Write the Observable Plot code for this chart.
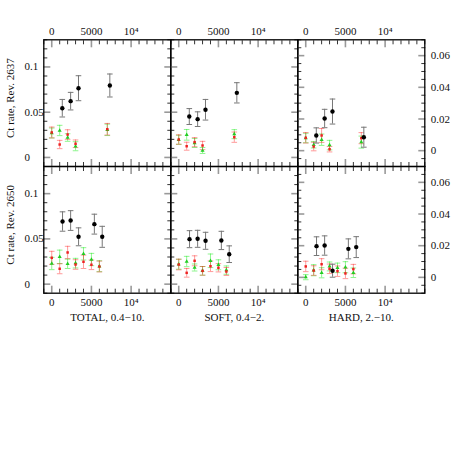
<!DOCTYPE html>
<html><head><meta charset="utf-8">
<script src="https://cdn.jsdelivr.net/npm/d3@7"></script>
<script src="https://cdn.jsdelivr.net/npm/@observablehq/plot@0.6"></script>
<style>
body{margin:0;background:#fff}
#c{position:relative;width:463px;height:463px;}
#c svg{position:absolute;left:0;top:0}
</style>
</head><body><div id="c"></div>
<script>
// ---- categories & tick labels ----
const revs = ["2637", "2650"];
const bands = ["TOTAL, 0.4\u221210.", "SOFT, 0.4\u22122.", "HARD, 2.\u221210."];
const xTickLabels = [0, 5000, 10000];
const yTicksMain = [0, 0.05, 0.1];
const yTicksHard = [0, 0.02, 0.04, 0.06];

// ---- x positions ----
const xRG2637 = [0, 1000, 2000, 3000, 7000];
const xBlack2637 = [1330, 2380, 3370, 7320];
const xRG2650 = [0, 1000, 2000, 3000, 4000, 5000, 6000];
const xBlack2650 = [1360, 2380, 3380, 5370, 6360];

// ---- Rev. 2637 ----
const totalBlack2637 = [0.0544, 0.0622, 0.0765, 0.0795];
const totalBlackErr2637 = [0.0097, 0.0097, 0.0138, 0.0127];
const totalRed2637 = [0.0276, 0.0143, 0.0253, 0.0151, 0.0312];
const totalRedErr2637 = [0.006, 0.0046, 0.0053, 0.0042, 0.0064];
const totalGreen2637 = [0.027, 0.0298, 0.022, 0.0124, 0.0305];
const totalGreenErr2637 = [0.0055, 0.0057, 0.0042, 0.005, 0.0063];

const softBlack2637 = [0.0452, 0.0423, 0.0527, 0.0714];
const softBlackErr2637 = [0.0088, 0.0081, 0.0114, 0.0112];
const softRed2637 = [0.0198, 0.0124, 0.0169, 0.0132, 0.0224];
const softRedErr2637 = [0.0052, 0.0044, 0.005, 0.0046, 0.0057];
const softGreen2637 = [0.0195, 0.025, 0.016, 0.0077, 0.0257];
const softGreenErr2637 = [0.005, 0.0059, 0.005, 0.0033, 0.005];

const hardBlack2637 = [0.0096, 0.0203, 0.0247, 0.0085];
const hardBlackErr2637 = [0.0048, 0.0058, 0.0079, 0.0063];
const hardRed2637 = [0.0081, 0.0026, 0.0096, 0.0009, 0.0079];
const hardRedErr2637 = [0.0033, 0.0027, 0.0044, 0.0017, 0.0035];
const hardGreen2637 = [0.008, 0.0037, 0.0069, 0.0035, 0.0054];
const hardGreenErr2637 = [0.003, 0.002, 0.0036, 0.003, 0.0038];

// ---- Rev. 2650 ----
const totalBlack2650 = [0.0692, 0.0703, 0.0523, 0.0663, 0.0523];
const totalBlackErr2650 = [0.0107, 0.0109, 0.0099, 0.011, 0.0116];
const totalRed2650 = [0.0291, 0.017, 0.035, 0.0217, 0.0247, 0.0214, 0.0195];
const totalRedErr2650 = [0.0072, 0.0055, 0.0068, 0.0053, 0.0074, 0.0053, 0.006];
const totalGreen2650 = [0.0228, 0.0302, 0.0225, 0.0232, 0.0335, 0.0272, 0.0198];
const totalGreenErr2650 = [0.0068, 0.0074, 0.0052, 0.0053, 0.0068, 0.0068, 0.006];

const softBlack2650 = [0.0497, 0.0501, 0.0479, 0.0483, 0.0331];
const softBlackErr2650 = [0.0094, 0.0094, 0.0094, 0.0101, 0.0092];
const softRed2650 = [0.0217, 0.0125, 0.0258, 0.0147, 0.0198, 0.0181, 0.014];
const softRedErr2650 = [0.0059, 0.0048, 0.0055, 0.0048, 0.0059, 0.0046, 0.0044];
const softGreen2650 = [0.022, 0.025, 0.0184, 0.0147, 0.0258, 0.0214, 0.0155];
const softGreenErr2650 = [0.0055, 0.0057, 0.0039, 0.0048, 0.0075, 0.0055, 0.0046];

const hardBlack2650 = [0.0197, 0.0201, 0.0042, 0.018, 0.0191];
const hardBlackErr2650 = [0.0059, 0.0061, 0.0041, 0.0063, 0.0066];
const hardRed2650 = [0.0069, 0.0043, 0.0083, 0.0054, 0.0039, 0.0025, 0.0052];
const hardRedErr2650 = [0.0033, 0.003, 0.0035, 0.003, 0.0033, 0.0033, 0.003];
const hardGreen2650 = [0.0001, 0.0045, 0.0029, 0.0069, 0.006, 0.0064, 0.0029];
const hardGreenErr2650 = [0.0016, 0.0035, 0.0032, 0.0028, 0.003, 0.0035, 0.003];

// ---- assemble tables ----
const rows = (xs, ys, es) => xs.map((x, i) => ({x, y: ys[i], e: es[i]}));
const panels = [
  [
    {k: rows(xBlack2637, totalBlack2637, totalBlackErr2637), r: rows(xRG2637, totalRed2637, totalRedErr2637), g: rows(xRG2637, totalGreen2637, totalGreenErr2637)},
    {k: rows(xBlack2637, softBlack2637, softBlackErr2637), r: rows(xRG2637, softRed2637, softRedErr2637), g: rows(xRG2637, softGreen2637, softGreenErr2637)},
    {k: rows(xBlack2637, hardBlack2637, hardBlackErr2637), r: rows(xRG2637, hardRed2637, hardRedErr2637), g: rows(xRG2637, hardGreen2637, hardGreenErr2637)}
  ],
  [
    {k: rows(xBlack2650, totalBlack2650, totalBlackErr2650), r: rows(xRG2650, totalRed2650, totalRedErr2650), g: rows(xRG2650, totalGreen2650, totalGreenErr2650)},
    {k: rows(xBlack2650, softBlack2650, softBlackErr2650), r: rows(xRG2650, softRed2650, softRedErr2650), g: rows(xRG2650, softGreen2650, softGreenErr2650)},
    {k: rows(xBlack2650, hardBlack2650, hardBlackErr2650), r: rows(xRG2650, hardRed2650, hardRedErr2650), g: rows(xRG2650, hardGreen2650, hardGreenErr2650)}
  ]
];

// ---- layout ----
const SIZE = 463;
const panelLeft = [43.3, 170.3, 297.3];
const panelTop = [39.3, 166];
const PW = 127, PH = 126.7;
const FONT = "'Liberation Serif', 'DejaVu Serif', serif";

const cap = {draw(ctx, size) { const w = Math.sqrt(size / Math.PI); ctx.moveTo(-w, 0); ctx.lineTo(w, 0); }};
const fmtX = d => d === 10000 ? "10\u2074" : String(d);
const notIn = (arr, majors) => arr.filter(v => !majors.some(m => Math.abs(m - v) < 1e-9));

function errMarks(data, stroke, opacity, w) {
  return [
    Plot.ruleX(data, {x: "x", y1: d => d.y - d.e, y2: d => d.y + d.e, stroke, strokeOpacity: opacity, strokeWidth: w}),
    Plot.dot(data, {x: "x", y: d => d.y - d.e, symbol: cap, r: 2.8, fill: "none", stroke, strokeOpacity: opacity, strokeWidth: w}),
    Plot.dot(data, {x: "x", y: d => d.y + d.e, symbol: cap, r: 2.8, fill: "none", stroke, strokeOpacity: opacity, strokeWidth: w})
  ];
}

function panel(ri, ci) {
  const p = panels[ri][ci];
  const left = panelLeft[ci], top = panelTop[ri];
  const hard = ci === 2;
  const yDomain = hard ? [-0.01, 0.07] : [-0.01, 0.13];
  const yMaj = hard ? yTicksHard : yTicksMain;
  const yMin = notIn(hard ? d3.range(-0.01, 0.0701, 0.005) : d3.range(-0.01, 0.1301, 0.01), yMaj);
  const xMin = notIn(d3.range(-1000, 15001, 1000), xTickLabels);
  const marks = [];
  for (const anchor of ["top", "bottom"]) {
    marks.push(Plot.axisX({anchor, ticks: xMin, tickSize: -4, fill: "none", stroke: "#333", strokeWidth: 1, label: null}));
    marks.push(Plot.axisX({anchor, ticks: xTickLabels, tickSize: -7, fill: "none", stroke: "#999", strokeWidth: 1.6, label: null}));
  }
  for (const anchor of ["left", "right"]) {
    marks.push(Plot.axisY({anchor, ticks: yMin, tickSize: -4, fill: "none", stroke: "#333", strokeWidth: 1, label: null}));
    marks.push(Plot.axisY({anchor, ticks: yMaj, tickSize: -7, fill: "none", stroke: "#999", strokeWidth: 1.6, label: null}));
  }
  if (ri === 0) marks.push(Plot.axisX({anchor: "top", ticks: xTickLabels, tickFormat: fmtX, tickSize: 0, tickPadding: 5, label: null, fill: "#111"}));
  if (ri === 1) marks.push(Plot.axisX({anchor: "bottom", ticks: xTickLabels, tickFormat: fmtX, tickSize: 0, tickPadding: 5, label: null, fill: "#111"}));
  if (ci === 0) marks.push(Plot.axisY({anchor: "left", ticks: yMaj, tickFormat: d => String(d), tickSize: 0, tickPadding: left - 24, textAnchor: "start", label: null, fill: "#111"}));
  if (ci === 2) marks.push(Plot.axisY({anchor: "right", ticks: yMaj, tickFormat: d => String(d), tickSize: 0, tickPadding: 6, label: null, fill: "#111"}));
  if (ci === 0) marks.push(Plot.text([`Ct rate, Rev. ${revs[ri]}`], {text: d => d, frameAnchor: "left", textAnchor: "middle", lineAnchor: "middle", rotate: -90, dx: -33, dy: -5, fill: "#111"}));
  if (ri === 1) marks.push(Plot.text([bands[ci]], {text: d => d, frameAnchor: "bottom", textAnchor: "middle", lineAnchor: "middle", dy: 24, fill: "#111"}));

  marks.push(...errMarks(p.g, "#22ee22", 0.5, 1));
  marks.push(...errMarks(p.r, "#ff2222", 0.45, 1));
  marks.push(Plot.dot(p.g, {x: "x", y: "y", symbol: "triangle", r: 1.5, fill: "#22cc22", stroke: "none"}));
  marks.push(Plot.dot(p.r, {x: "x", y: "y", symbol: "square", r: 1.4, fill: "#ee2222", stroke: "none"}));
  marks.push(...errMarks(p.k, "#777", 1, 1));
  marks.push(Plot.dot(p.k, {x: "x", y: "y", r: 2.2, fill: "black", stroke: "none"}));
  marks.push(Plot.frame({stroke: "black", strokeWidth: 1.3}));

  return Plot.plot({
    width: SIZE, height: SIZE,
    marginLeft: left, marginRight: SIZE - left - PW,
    marginTop: top, marginBottom: SIZE - top - PH,
    x: {domain: [-1000, 15000]},
    y: {domain: yDomain},
    style: {background: "transparent", overflow: "visible", fontFamily: FONT, fontSize: "11px", color: "#111"},
    marks
  });
}

const c = document.getElementById("c");
for (let ri = 0; ri < 2; ri++) for (let ci = 0; ci < 3; ci++) c.appendChild(panel(ri, ci));
</script>
</body></html>
